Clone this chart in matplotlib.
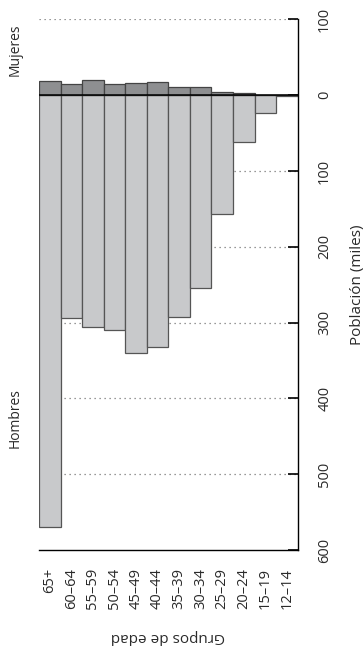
import numpy as np
import matplotlib.pyplot as plt

plt.rcParams['font.family'] = ['Open Sans', 'DejaVu Sans']

grupos = ['65+', '60–64', '55–59', '50–54', '45–49', '40–44',
          '35–39', '30–34', '25–29', '20–24', '15–19', '12–14']
hombres = [569, 294, 306, 310, 340, 332, 292, 254, 157, 61, 23, 0.5]
mujeres = [19, 14.5, 20.5, 14.5, 16, 18, 11, 11, 4.5, 2.5, 1, 0.5]

ticks = [100, 0, -100, -200, -300, -400, -500, -600]
tick_labels = ['100', '0', '100', '200', '300', '400', '500', '600']
grid_vals = [100, -100, -200, -300, -400, -500]

txt = '#2a2a2a'

fig = plt.figure(figsize=(3.64, 6.55), dpi=100)
ax = fig.add_axes([39 / 364, 1 - 550 / 655, (297.7 - 39) / 364, (550 - 19.5) / 655])

x = np.arange(len(grupos))
for g in grid_vals:
    ax.axhline(g, color='#777777', lw=0.9, ls=(0, (1, 3)), zorder=0)

ax.bar(x, [-h for h in hombres], width=1.0, align='center',
       color='#c8c9cb', edgecolor='#555555', lw=0.9, zorder=2)
ax.bar(x, mujeres, width=1.0, align='center',
       color='#8e8f91', edgecolor='#444444', lw=0.9, zorder=2)
ax.axhline(0, color='black', lw=1.1, zorder=3)

ax.set_xlim(-0.5, len(grupos) - 0.5)
ax.set_ylim(-600, 100)

ax.spines['top'].set_visible(False)
ax.spines['left'].set_visible(False)
ax.spines['right'].set_linewidth(1.0)
ax.spines['bottom'].set_linewidth(1.0)

ax.yaxis.tick_right()
ax.set_yticks(ticks)
ax.set_yticklabels(tick_labels, rotation=90, va='center', fontsize=10.5, color=txt)
ax.tick_params(axis='y', direction='in', length=7, width=1.2, pad=14)
ax.yaxis.set_label_position('right')
ax.set_ylabel('Población (miles)', rotation=90, fontsize=11, labelpad=13, color=txt)

ax.set_xticks(x)
ax.set_xticklabels(grupos, rotation=90, fontsize=10.5, color=txt)
ax.tick_params(axis='x', length=0, pad=13)
ax.set_xlabel('Grupos de edad', rotation=180, fontsize=11, labelpad=14, color=txt)

fig.text(15 / 364, 1 - 50 / 655, 'Mujeres', rotation=90, ha='center', va='center',
         fontsize=10, color=txt)
fig.text(15 / 364, 1 - 418 / 655, 'Hombres', rotation=90, ha='center', va='center',
         fontsize=10, color=txt)

fig.savefig('out.png', dpi=100)
